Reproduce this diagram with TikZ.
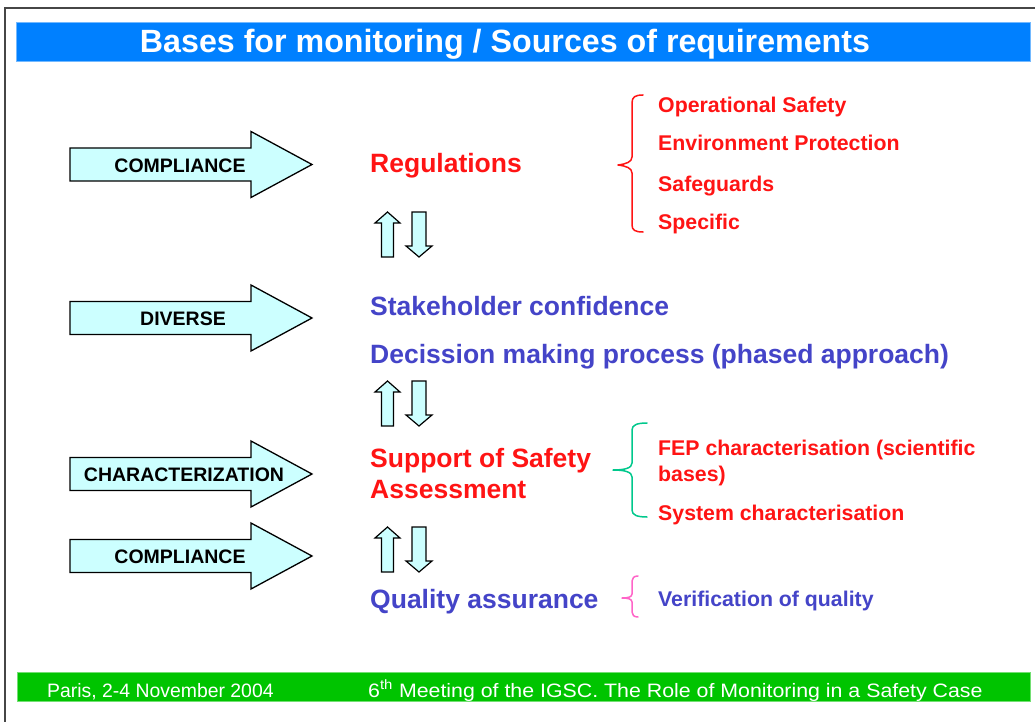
\documentclass[tikz,border=0pt]{standalone}
\usepackage{fontspec}
\setmainfont{Liberation Sans}
\definecolor{titleblue}{RGB}{0,128,255}
\definecolor{footgreen}{RGB}{0,196,0}
\definecolor{txtred}{RGB}{255,20,20}
\definecolor{txtblue}{RGB}{68,68,200}
\definecolor{arrfill}{RGB}{204,255,255}
\definecolor{bracegreen}{RGB}{0,200,140}
\definecolor{bracepink}{RGB}{255,100,200}
\definecolor{framegray}{RGB}{70,70,70}
\tikzset{
  blockarr/.style={draw=black, fill=arrfill, line width=1.3pt, line join=miter},
  arrlabel/.style={font=\fontsize{19.5}{22}\selectfont\bfseries, text=black, inner sep=0pt, anchor=base},
  maintext/.style={font=\fontsize{26.5}{30}\selectfont\bfseries, inner sep=0pt, anchor=base west},
  itemtext/.style={font=\fontsize{21.3}{24}\selectfont\bfseries, inner sep=0pt, anchor=base west},
  bracestyle/.style={line width=1.5pt, line cap=round, line join=round},
}
\begin{document}
\begin{tikzpicture}[x=1pt,y=-1pt]
\useasboundingbox (0,0) rectangle (1035,722);
\fill[white] (0,0) rectangle (1035,722);
% frame
\draw[framegray, line width=2pt] (5,722) -- (5,8) -- (1036,8);
% title bar
\fill[titleblue] (16,22) rectangle (1030,61);
\draw[titleblue!55!white, line width=0.6pt] (16,22) rectangle (1030,61);
\node[font=\fontsize{32.2}{34}\selectfont\bfseries, text=white, inner sep=0pt, anchor=base] (title) at (505,53) {Bases for monitoring / Sources of requirements};
% footer bar
\fill[footgreen] (17,672) rectangle (1030,701);
\draw[footgreen!55!white, line width=0.6pt] (17,672) rectangle (1030,701);
\node[font=\fontsize{19.4}{22}\selectfont, text=white, inner sep=0pt, anchor=base west] (place) at (47,697) {Paris, 2-4 November 2004};
\node[font=\fontsize{19.4}{22}\selectfont, text=white, inner sep=0pt, anchor=base west] (meeting) at (368,697) {\scalebox{1.1}[1]{6\textsuperscript{th} Meeting of the IGSC. The Role of Monitoring in a Safety Case}};

% left block arrows
\foreach \c/\lab/\lx/\name in {164.5/COMPLIANCE/180/a1, 318/DIVERSE/183/a2, 474/CHARACTERIZATION/184/a3, 556/COMPLIANCE/180/a4}{
  \draw[blockarr] (70,\c-16.5) -- (251,\c-16.5) -- (251,\c-33) -- (312,\c) -- (251,\c+33) -- (251,\c+16.5) -- (70,\c+16.5) -- cycle;
  \node[arrlabel] (\name) at (\lx,\c+7.5) {\lab};
}

% up/down arrow pairs
\foreach \t/\b in {212/257, 381/426, 527/572}{
  \draw[blockarr, line width=1.2pt] (387.5,\t) -- (400,\t+11) -- (393.5,\t+11) -- (393.5,\b) -- (381.5,\b) -- (381.5,\t+11) -- (375,\t+11) -- cycle;
  \draw[blockarr, line width=1.2pt] (412,\t) -- (426,\t) -- (426,\b-11) -- (432,\b-11) -- (419,\b) -- (406,\b-11) -- (412,\b-11) -- cycle;
}

% central texts
\node[maintext, text=txtred] (reg) at (370,173) {Regulations};
\node[maintext, text=txtblue] (stake) at (370,315) {Stakeholder confidence};
\node[maintext, text=txtblue] (dec) at (370,363) {Decission making process (phased approach)};
\node[maintext, text=txtred] (sup) at (370,467) {Support of Safety};
\node[maintext, text=txtred] (ass) at (370,498) {Assessment};
\node[maintext, text=txtblue] (qa) at (370,608) {Quality assurance};

% red brace
\draw[txtred, bracestyle] (643,95) .. controls (635,95) and (632,97) .. (632,103) -- (632,157) .. controls (632,162) and (626,164) .. (618,165) .. controls (626,166) and (632,168) .. (632,173) -- (632,225) .. controls (632,230) and (635,232) .. (643,232);
\node[itemtext, text=txtred] (op) at (658,113) {Operational Safety};
\node[itemtext, text=txtred] (env) at (658,151) {Environment Protection};
\node[itemtext, text=txtred] (safe) at (658,191) {Safeguards};
\node[itemtext, text=txtred] (spec) at (658,229) {Specific};

% green brace
\draw[bracegreen, bracestyle] (647,423) .. controls (637,423) and (632,425) .. (632,430) -- (632,463) .. controls (632,468) and (625,470) .. (613,470) .. controls (625,470) and (632,472) .. (632,477) -- (632,510) .. controls (632,515) and (637,517) .. (647,517);
\node[itemtext, text=txtred] (fep) at (658,455) {FEP characterisation (scientific};
\node[itemtext, text=txtred] (fep2) at (658,481) {bases)};
\node[itemtext, text=txtred] (sys) at (658,520) {System characterisation};

% pink brace
\draw[bracepink, bracestyle] (638,576) .. controls (634,576) and (632,578) .. (632,581) -- (632,594) .. controls (632,597) and (628,598) .. (622,598) .. controls (628,598) and (632,599) .. (632,602) -- (632,612) .. controls (632,615) and (634,617) .. (638,617);
\node[itemtext, text=txtblue] (ver) at (658,606) {Verification of quality};
\end{tikzpicture}
\end{document}
